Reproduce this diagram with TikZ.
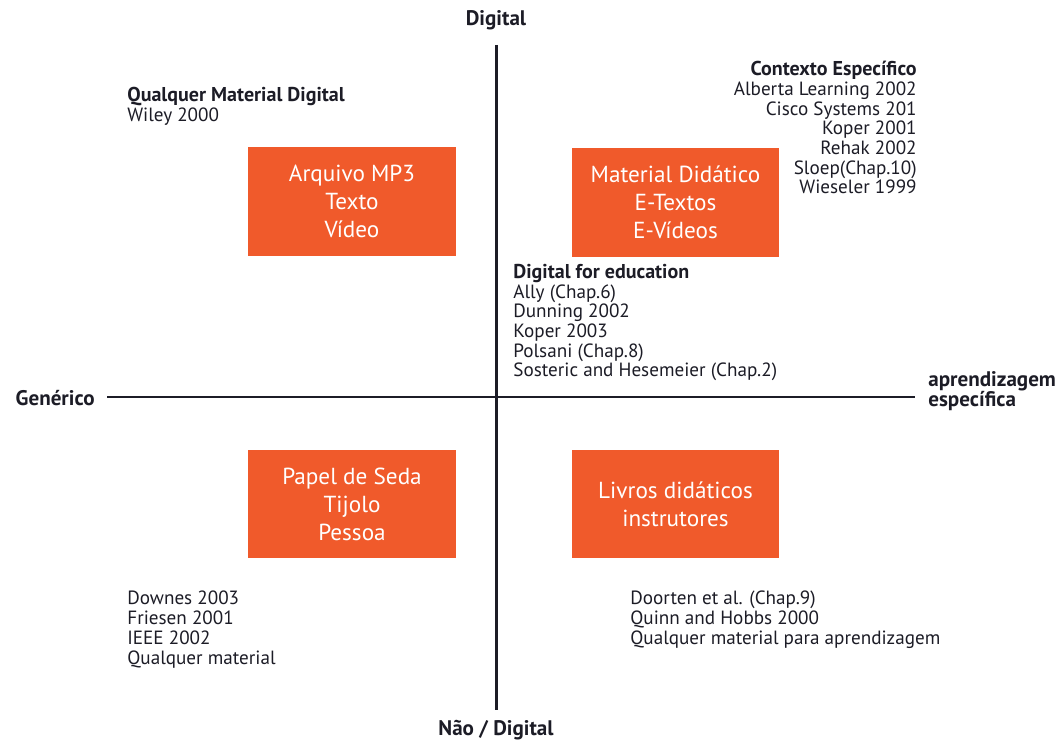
\documentclass[tikz,border=0pt]{standalone}
\usepackage{fontspec}
\setmainfont{PT Sans}
\usepackage{tikz}
\definecolor{laranja}{RGB}{240,90,43}
\definecolor{tinta}{RGB}{28,28,38}

\newcommand{\destaque}[1]{{\fontsize{11.4}{11.2}\selectfont\bfseries #1}}

\tikzset{
  caixa/.style={fill=laranja, text=white, minimum width=4.16cm, minimum height=2.18cm,
    align=center, font=\fontsize{13.2}{16}\selectfont},
  rotulo/.style={text=tinta, font=\fontsize{10.9}{11.2}\selectfont, inner sep=0pt},
  eixo/.style={draw=tinta, line width=1.7pt},
  titulo/.style={text=tinta, font=\fontsize{12}{11.2}\selectfont\bfseries, inner sep=0pt}
}

\begin{document}
\begin{tikzpicture}[x=0.02cm, y=-0.02cm]
        \useasboundingbox (0,0) rectangle (1064,740);

        % Axes
        \coordinate (topo) at (496,45);
        \coordinate (baixo) at (496,710);
        \coordinate (esq) at (107,397);
        \coordinate (dir) at (915,397);
        \draw[eixo] (topo) -- (baixo);
        \draw[eixo] (esq) -- (dir);

        % Axis labels
        \node[titulo] (digital) at (496,20) {Digital};
        \node[titulo] (naodigital) at (496,730) {Não / Digital};
        \node[titulo, anchor=east] (generico) at (95,398) {Genérico};
        \node[titulo, anchor=west, align=left] (especifica) at (928,391) {aprendizagem\\específica};

        % Quadrant boxes
        \node[caixa] (mp3) at (352,201.5) {Arquivo MP3\\Texto\\Vídeo};
        \node[caixa] (didatico) at (675.5,202.5) {Material Didático\\E-Textos\\E-Vídeos};
        \node[caixa] (seda) at (352,504) {Papel de Seda\\Tijolo\\Pessoa};
        \node[caixa] (livros) at (675.5,504) {Livros didáticos\\instrutores};

        % References
        \node[rotulo, anchor=north west, align=left] (qualquer) at (127,87)
              {\destaque{Qualquer Material Digital}\\Wiley 2000};
        \node[rotulo, anchor=north east, align=right] (contexto) at (917,61)
              {\destaque{Contexto Específico}\\Alberta Learning 2002\\Cisco Systems 201\\Koper 2001\\Rehak 2002\\Sloep(Chap.10)\\Wieseler 1999};
        \node[rotulo, anchor=north west, align=left] (educacao) at (513,264)
              {\destaque{Digital for education}\\Ally (Chap.6)\\Dunning 2002\\Koper 2003\\Polsani (Chap.8)\\Sosteric and Hesemeier (Chap.2)};
        \node[rotulo, anchor=north west, align=left] (downes) at (127,591)
              {Downes 2003\\Friesen 2001\\IEEE 2002\\Qualquer material};
        \node[rotulo, anchor=north west, align=left] (doorten) at (630,591)
              {Doorten et al. (Chap.9)\\Quinn and Hobbs 2000\\Qualquer material para aprendizagem};
    \end{tikzpicture}
\end{document}
